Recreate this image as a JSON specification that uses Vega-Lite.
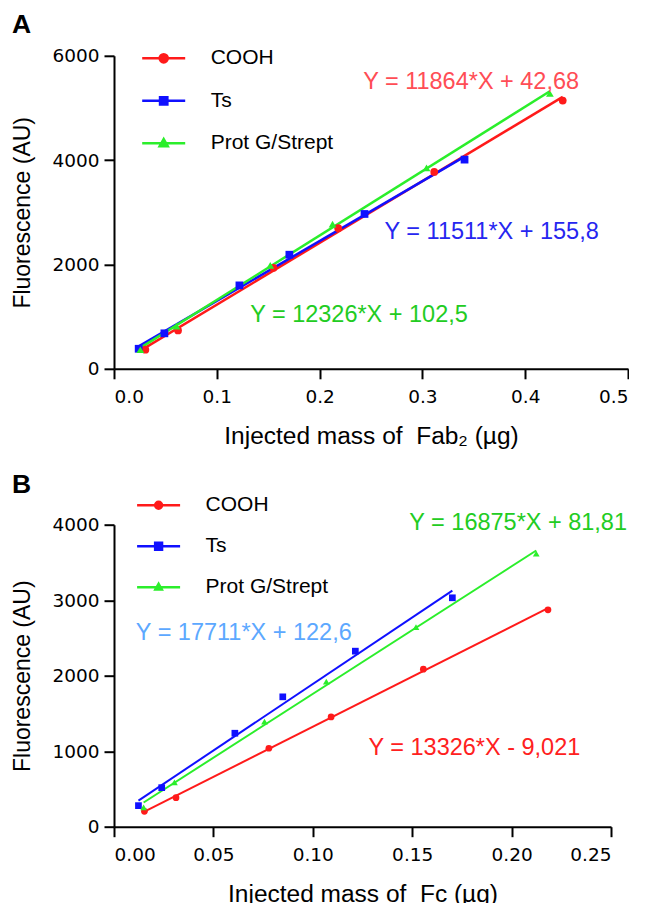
{
  "$schema": "https://vega.github.io/schema/vega-lite/v6.json",
  "background": "white",
  "padding": {"left": 11, "top": 11.8, "right": 0, "bottom": 0},
  "spacing": 23.9,
  "resolve": {"scale": {"fill": "independent", "stroke": "independent", "shape": "independent"}, "legend": {"fill": "independent", "stroke": "independent", "shape": "independent"}},
  "config": {
    "font": "Liberation Sans",
    "view": {"stroke": null},
    "axis": {"grid": false, "domainColor": "black", "domainWidth": 2, "tickColor": "black", "tickWidth": 2, "tickSize": 10,
      "labelColor": "black", "labelFont": "DejaVu Sans", "labelFontSize": 18.5, "titleFont": "Liberation Sans", "titleFontSize": 23,
      "titleFontWeight": "normal", "titleColor": "black"},
    "axisX": {"labelPadding": 9, "titlePadding": 18, "titleFontSize": 24.5},
    "axisY": {"labelPadding": 5, "titlePadding": 17},
    "legend": {"title": null, "symbolSize": 1849, "labelFontSize": 21, "labelFont": "Liberation Sans", "labelColor": "black", "labelOffset": 24, "rowPadding": 9.5, "symbolStrokeWidth": 2.5, "symbolOpacity": 1},
    "title": {"fontSize": 26.5, "fontWeight": "bold", "anchor": "start", "frame": "group", "color": "black", "font": "Liberation Sans"}
  },
  "datasets": {
    "a_pts": [
      {"series": "COOH", "mass": 0.0305, "fluo": 366}, {"series": "COOH", "mass": 0.0623, "fluo": 735}, {"series": "COOH", "mass": 0.1552, "fluo": 1935},
      {"series": "COOH", "mass": 0.2181, "fluo": 2695}, {"series": "COOH", "mass": 0.3115, "fluo": 3774}, {"series": "COOH", "mass": 0.4365, "fluo": 5142},
      {"series": "Ts", "mass": 0.024, "fluo": 384}, {"series": "Ts", "mass": 0.049, "fluo": 680}, {"series": "Ts", "mass": 0.122, "fluo": 1599},
      {"series": "Ts", "mass": 0.1706, "fluo": 2187}, {"series": "Ts", "mass": 0.2437, "fluo": 2968}, {"series": "Ts", "mass": 0.341, "fluo": 4010},
      {"series": "Prot G/Strept", "mass": 0.0256, "fluo": 365}, {"series": "Prot G/Strept", "mass": 0.0608, "fluo": 820}, {"series": "Prot G/Strept", "mass": 0.152, "fluo": 1982},
      {"series": "Prot G/Strept", "mass": 0.2126, "fluo": 2775}, {"series": "Prot G/Strept", "mass": 0.304, "fluo": 3851}, {"series": "Prot G/Strept", "mass": 0.424, "fluo": 5277}
    ],
    "a_eq": [
      {"series": "COOH", "label": "Y = 11864*X + 42,68", "mass": 0.3474, "fluo": 5507},
      {"series": "Ts", "label": "Y = 11511*X + 155,8", "mass": 0.3674, "fluo": 2623},
      {"series": "Prot G/Strept", "label": "Y = 12326*X + 102,5", "mass": 0.2383, "fluo": 1036}
    ],
    "b_pts": [
      {"series": "COOH", "mass": 0.0153, "fluo": 204}, {"series": "COOH", "mass": 0.0312, "fluo": 385}, {"series": "COOH", "mass": 0.0779, "fluo": 1039},
      {"series": "COOH", "mass": 0.1092, "fluo": 1454}, {"series": "COOH", "mass": 0.1556, "fluo": 2087}, {"series": "COOH", "mass": 0.2183, "fluo": 2873},
      {"series": "Ts", "mass": 0.0123, "fluo": 279}, {"series": "Ts", "mass": 0.024, "fluo": 517}, {"series": "Ts", "mass": 0.0608, "fluo": 1238},
      {"series": "Ts", "mass": 0.0849, "fluo": 1720}, {"series": "Ts", "mass": 0.1214, "fluo": 2325}, {"series": "Ts", "mass": 0.1702, "fluo": 3032},
      {"series": "Prot G/Strept", "mass": 0.0149, "fluo": 257}, {"series": "Prot G/Strept", "mass": 0.0304, "fluo": 588}, {"series": "Prot G/Strept", "mass": 0.0757, "fluo": 1392},
      {"series": "Prot G/Strept", "mass": 0.1068, "fluo": 1922}, {"series": "Prot G/Strept", "mass": 0.1519, "fluo": 2644}, {"series": "Prot G/Strept", "mass": 0.2124, "fluo": 3616}
    ],
    "b_eq": [
      {"series": "Prot G/Strept", "label": "Y = 16875*X + 81,81", "mass": 0.2033, "fluo": 4027},
      {"series": "Ts", "label": "Y = 17711*X + 122,6", "mass": 0.0653, "fluo": 2564},
      {"series": "COOH", "label": "Y = 13326*X - 9,021", "mass": 0.1813, "fluo": 1039}
    ]
  },
  "vconcat": [
    {
      "width": 514, "height": 313,
      "title": {"text": "A", "dx": -102, "offset": -3.4},
      "layer": [
        {
          "data": {"name": "a_pts"},
          "transform": [{"regression": "fluo", "on": "mass", "groupby": ["series"]}],
          "mark": {"type": "line", "strokeWidth": 2.5},
          "encoding": {
            "x": {"field": "mass", "type": "quantitative", "scale": {"domain": [0, 0.5], "nice": false}, "axis": {"values": [0, 0.1, 0.2, 0.3, 0.4, 0.5], "format": ".1f", "title": "Injected mass of \u00a0Fab₂ (µg)"}},
            "y": {"field": "fluo", "type": "quantitative", "scale": {"domain": [0, 6000], "nice": false}, "axis": {"values": [0, 2000, 4000, 6000], "format": "d", "title": "Fluorescence (AU)"}},
            "detail": {"field": "series", "type": "nominal"},
            "color": {"condition": [{"test": "datum.series === 'COOH'", "value": "#ff1a1a"}, {"test": "datum.series === 'Ts'", "value": "#1010ff"}], "value": "#2bee2b"}
          }
        },
        {
          "data": {"name": "a_pts"},
          "mark": {"type": "point", "filled": true, "size": 60, "opacity": 1},
          "encoding": {
            "x": {"field": "mass", "type": "quantitative"},
            "y": {"field": "fluo", "type": "quantitative"},
            "color": {"condition": [{"test": "datum.series === 'COOH'", "value": "#ff1a1a"}, {"test": "datum.series === 'Ts'", "value": "#1010ff"}], "value": "#2bee2b"},
            "shape": {"condition": [{"test": "datum.series === 'COOH'", "value": "circle"}, {"test": "datum.series === 'Ts'", "value": "square"}], "value": "triangle-up"}
          }
        },
        {
          "data": {"name": "a_pts"},
          "transform": [{"filter": "datum.series === 'none'"}],
          "mark": {"type": "point", "filled": true, "strokeWidth": 2.5},
          "encoding": {
            "x": {"field": "mass", "type": "quantitative"},
            "y": {"field": "fluo", "type": "quantitative"},
            "fill": {"field": "series", "type": "nominal", "scale": {"domain": ["COOH", "Ts", "Prot G/Strept"], "range": ["#ff1a1a", "#1010ff", "#2bee2b"]},
              "legend": {"orient": "none", "legendX": 26.7, "legendY": -20.5, "rowPadding": 9.5}},
            "stroke": {"field": "series", "type": "nominal", "scale": {"domain": ["COOH", "Ts", "Prot G/Strept"], "range": ["#ff1a1a", "#1010ff", "#2bee2b"]},
              "legend": {"orient": "none", "legendX": 26.7, "legendY": -20.5, "rowPadding": 9.5}},
            "shape": {"field": "series", "type": "nominal", "scale": {"domain": ["COOH", "Ts", "Prot G/Strept"], "range": ["M-1,0L1,0M-0.19,0A0.19,0.19,0,1,0,0.19,0A0.19,0.19,0,1,0,-0.19,0Z", "M-1,0L1,0M-0.17,-0.17H0.17V0.17H-0.17Z", "M-1,0L1,0M0,-0.2L0.19,0.14H-0.19Z"]},
              "legend": {"orient": "none", "legendX": 26.7, "legendY": -20.5, "rowPadding": 9.5}}
          }
        },
        {"data": {"name": "a_eq"}, "transform": [{"filter": "datum.series === 'COOH'"}], "mark": {"type": "text", "fontSize": 23.5, "color": "#ff4d55", "align": "center", "baseline": "middle"},
          "encoding": {"x": {"field": "mass", "type": "quantitative"}, "y": {"field": "fluo", "type": "quantitative"}, "text": {"field": "label"}}},
        {"data": {"name": "a_eq"}, "transform": [{"filter": "datum.series === 'Ts'"}], "mark": {"type": "text", "fontSize": 23.5, "color": "#2626f0", "align": "center", "baseline": "middle"},
          "encoding": {"x": {"field": "mass", "type": "quantitative"}, "y": {"field": "fluo", "type": "quantitative"}, "text": {"field": "label"}}},
        {"data": {"name": "a_eq"}, "transform": [{"filter": "datum.series === 'Prot G/Strept'"}], "mark": {"type": "text", "fontSize": 23.5, "color": "#22cc22", "align": "center", "baseline": "middle"},
          "encoding": {"x": {"field": "mass", "type": "quantitative"}, "y": {"field": "fluo", "type": "quantitative"}, "text": {"field": "label"}}}
      ]
    },
    {
      "width": 497, "height": 302,
      "title": {"text": "B", "dx": -102, "offset": -16},
      "layer": [
        {
          "data": {"name": "b_pts"},
          "transform": [{"regression": "fluo", "on": "mass", "groupby": ["series"]}],
          "mark": {"type": "line", "strokeWidth": 2},
          "encoding": {
            "x": {"field": "mass", "type": "quantitative", "scale": {"domain": [0, 0.25], "nice": false}, "axis": {"values": [0, 0.05, 0.1, 0.15, 0.2, 0.25], "format": ".2f", "title": "Injected mass of \u00a0Fc (µg)"}},
            "y": {"field": "fluo", "type": "quantitative", "scale": {"domain": [0, 4000], "nice": false}, "axis": {"values": [0, 1000, 2000, 3000, 4000], "format": "d", "title": "Fluorescence (AU)"}},
            "detail": {"field": "series", "type": "nominal"},
            "color": {"condition": [{"test": "datum.series === 'COOH'", "value": "#ff1a1a"}, {"test": "datum.series === 'Ts'", "value": "#1010ff"}], "value": "#2bee2b"}
          }
        },
        {
          "data": {"name": "b_pts"},
          "mark": {"type": "point", "filled": true, "size": 45, "opacity": 1},
          "encoding": {
            "x": {"field": "mass", "type": "quantitative"},
            "y": {"field": "fluo", "type": "quantitative"},
            "color": {"condition": [{"test": "datum.series === 'COOH'", "value": "#ff1a1a"}, {"test": "datum.series === 'Ts'", "value": "#1010ff"}], "value": "#2bee2b"},
            "shape": {"condition": [{"test": "datum.series === 'COOH'", "value": "circle"}, {"test": "datum.series === 'Ts'", "value": "square"}], "value": "triangle-up"}
          }
        },
        {
          "data": {"name": "b_pts"},
          "transform": [{"filter": "datum.series === 'none'"}],
          "mark": {"type": "point", "filled": true, "strokeWidth": 2},
          "encoding": {
            "x": {"field": "mass", "type": "quantitative"},
            "y": {"field": "fluo", "type": "quantitative"},
            "fill": {"field": "series", "type": "nominal", "scale": {"domain": ["COOH", "Ts", "Prot G/Strept"], "range": ["#ff1a1a", "#1010ff", "#2bee2b"]},
              "legend": {"orient": "none", "legendX": 21.6, "legendY": -42.5, "rowPadding": 8}},
            "stroke": {"field": "series", "type": "nominal", "scale": {"domain": ["COOH", "Ts", "Prot G/Strept"], "range": ["#ff1a1a", "#1010ff", "#2bee2b"]},
              "legend": {"orient": "none", "legendX": 21.6, "legendY": -42.5, "rowPadding": 8}},
            "shape": {"field": "series", "type": "nominal", "scale": {"domain": ["COOH", "Ts", "Prot G/Strept"], "range": ["M-1,0L1,0M-0.16,0A0.16,0.16,0,1,0,0.16,0A0.16,0.16,0,1,0,-0.16,0Z", "M-1,0L1,0M-0.16,-0.16H0.16V0.16H-0.16Z", "M-1,0L1,0M0,-0.16L0.15,0.11H-0.15Z"]},
              "legend": {"orient": "none", "legendX": 21.6, "legendY": -42.5, "rowPadding": 8}}
          }
        },
        {"data": {"name": "b_eq"}, "transform": [{"filter": "datum.series === 'Prot G/Strept'"}], "mark": {"type": "text", "fontSize": 23.5, "color": "#22cc22", "align": "center", "baseline": "middle"},
          "encoding": {"x": {"field": "mass", "type": "quantitative"}, "y": {"field": "fluo", "type": "quantitative"}, "text": {"field": "label"}}},
        {"data": {"name": "b_eq"}, "transform": [{"filter": "datum.series === 'Ts'"}], "mark": {"type": "text", "fontSize": 23.5, "color": "#5ca8ff", "align": "center", "baseline": "middle"},
          "encoding": {"x": {"field": "mass", "type": "quantitative"}, "y": {"field": "fluo", "type": "quantitative"}, "text": {"field": "label"}}},
        {"data": {"name": "b_eq"}, "transform": [{"filter": "datum.series === 'COOH'"}], "mark": {"type": "text", "fontSize": 23.5, "color": "#ff2020", "align": "center", "baseline": "middle"},
          "encoding": {"x": {"field": "mass", "type": "quantitative"}, "y": {"field": "fluo", "type": "quantitative"}, "text": {"field": "label"}}}
      ]
    }
  ]
}
